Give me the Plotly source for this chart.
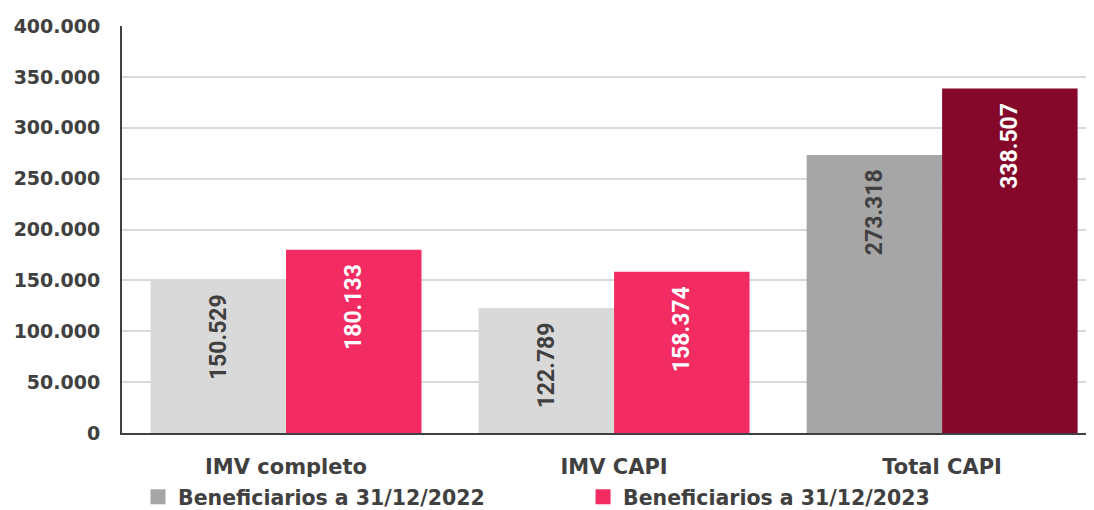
import plotly.graph_objects as go

categories = ["IMV completo", "IMV CAPI", "Total CAPI"]
series_names = ["Beneficiarios a 31/12/2022", "Beneficiarios a 31/12/2023"]
values_2022 = [150529, 122789, 273318]
values_2023 = [180133, 158374, 338507]
tick_vals = [0, 50000, 100000, 150000, 200000, 250000, 300000, 350000, 400000]

colors_2022 = ["#D9D9D9", "#D9D9D9", "#A6A6A6"]
colors_2023 = ["#F22C63", "#F22C63", "#85072A"]
legend_colors = ["#A6A6A6", "#F22C63"]
FONT = "DejaVu Sans"
TXT = "#404040"
PAD = "\u00a0\u00a0"

fig = go.Figure()
fig.add_trace(go.Bar(
    x=categories, y=values_2022, name=series_names[0], showlegend=False,
    marker=dict(color=colors_2022, line=dict(width=0)),
    texttemplate="%{y:,d}" + PAD, textposition="inside", insidetextanchor="end",
    textangle=-90, textfont=dict(family="Roboto", size=23, color=TXT, weight="bold"),
))
fig.add_trace(go.Bar(
    x=categories, y=values_2023, name=series_names[1], showlegend=False,
    marker=dict(color=colors_2023, line=dict(width=0)),
    texttemplate="%{y:,d}" + PAD, textposition="inside", insidetextanchor="end",
    textangle=-90, textfont=dict(family="Roboto", size=23, color="white", weight="bold"),
))
# legend entries (legend swatch colours differ from first bar colour)
for name, col in zip(series_names, legend_colors):
    fig.add_trace(go.Scatter(
        x=[None], y=[None], name=name, mode="markers",
        marker=dict(symbol="square", size=15, color=col),
    ))

# page body has an 8px margin: figure is 1086x502 placed at (8, 8)
fig.update_layout(
    width=1086, height=502,
    margin=dict(l=114, r=0, t=18, b=77, autoexpand=False),
    paper_bgcolor="white", plot_bgcolor="white",
    separators=",.",
    barmode="group", bargap=0.174, bargroupgap=0,
    font=dict(family=FONT, color=TXT, size=18),
    showlegend=True,
    legend=dict(orientation="h", x=0.0165, xanchor="left", y=-0.108, yanchor="top",
                font=dict(family=FONT, size=20.5, color=TXT, weight="bold"),
                entrywidth=400, entrywidthmode="pixels", itemwidth=30,
                traceorder="normal"),
    xaxis=dict(range=[-0.5, 2.463], showgrid=False, showline=True, linecolor="#404040",
               linewidth=2, ticks="", ticklabelstandoff=14,
               tickfont=dict(family=FONT, size=21, color=TXT, weight="bold")),
    yaxis=dict(range=[0, 400000], tickvals=tick_vals, tickformat=",d",
               showgrid=True, gridcolor="#D9D9D9", gridwidth=1.5,
               showline=True, linecolor="#404040", linewidth=2,
               zeroline=False, ticks="", ticklabelstandoff=16,
               tickfont=dict(family=FONT, size=19, color=TXT, weight="bold")),
)

fig.write_html("out.html")
